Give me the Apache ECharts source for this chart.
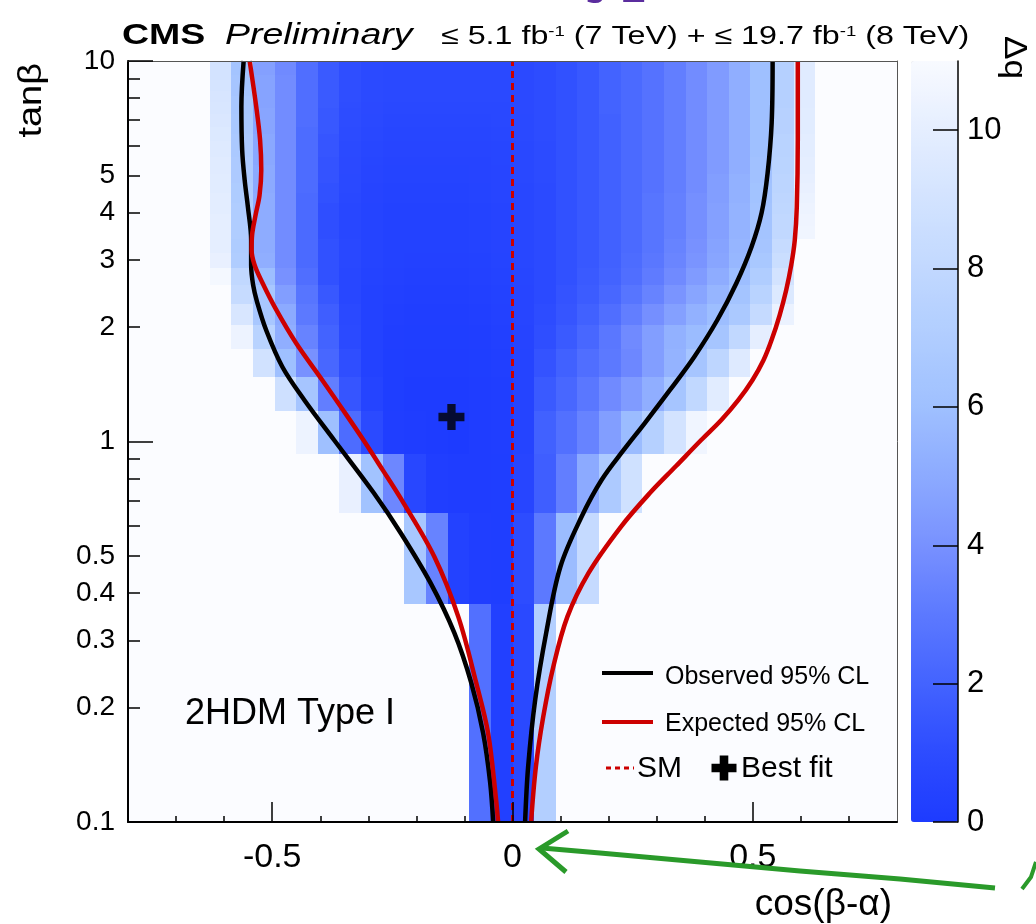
<!DOCTYPE html>
<html><head><meta charset="utf-8">
<script src="https://cdn.jsdelivr.net/npm/echarts@6/dist/echarts.min.js"></script>
<style>html,body{margin:0;padding:0;background:#fff}#c{width:1036px;height:924px}</style>
</head><body><div id="c"></div>
<script>
const _ = null;
// bin edges of the scan
const cosEdges = [-0.63,-0.585,-0.54,-0.495,-0.45,-0.405,-0.36,-0.315,-0.27,-0.225,-0.18,-0.135,-0.09,-0.045,0,0.045,0.09,0.135,0.18,0.225,0.27,0.315,0.36,0.405,0.45,0.495,0.54,0.585,0.63];
const tanEdges = [0.1,0.375,0.65,0.925,1.2,1.475,1.75,2.025,2.3,2.575,2.85,3.125,3.4,3.675,3.95,4.225,4.5,4.775,5.05,5.325,5.6,5.875,6.15,6.425,6.7,6.975,7.25,7.525,7.8,8.075,8.35,8.625,8.9,9.175,9.45,9.725,10];
// -2 Delta lnL per cell, row 0 = lowest tan(beta) bin, column 0 = most negative cos(beta-alpha)
const deltaRows = [
 [_,_,_,_,_,_,_,_,_,_,_,_,2.6,0.3,0.8,7.2,_,_,_,_,_,_,_,_,_,_,_,_],
 [_,_,_,_,_,_,_,_,_,6.5,3.4,0.4,0.2,0.15,1.0,3.0,5.8,8.2,_,_,_,_,_,_,_,_,_,_],
 [_,_,_,_,_,_,10.2,6.2,3.6,0.7,0.2,0.1,0.1,0.15,0.6,1.8,3.2,5.0,6.8,8.8,_,_,_,_,_,_,_,_],
 [_,_,_,_,10.4,6.0,2.4,0.9,0.2,0.1,0.05,0.02,0.1,0.2,0.5,1.9,2.6,3.4,4.5,5.8,7.3,9.0,10.6,_,_,_,_,_],
 [_,_,_,8.7,6.4,3.2,1.4,0.5,0.15,0.05,0.05,0.05,0.1,0.2,0.5,1.6,2.2,2.9,3.7,4.4,5.2,6.4,8.0,9.8,_,_,_,_],
 [_,_,8.9,6.0,4.0,2.2,1.1,0.4,0.15,0.1,0.1,0.1,0.15,0.25,0.5,1.3,1.9,2.5,3.0,3.6,4.5,5.4,6.4,7.8,9.6,_,_,_],
 [_,10.4,7.5,5.2,3.4,2.0,0.9,0.4,0.2,0.15,0.15,0.15,0.2,0.3,0.55,1.1,1.6,2.2,2.9,3.7,4.5,5.3,5.8,6.4,8.0,10.0,_,_],
 [_,9.3,6.5,5.0,3.0,1.8,0.8,0.4,0.25,0.2,0.2,0.2,0.25,0.35,0.6,1.0,1.4,1.9,2.5,3.2,3.9,4.6,5.3,5.9,6.7,8.2,10.3,_],
 [_,8.3,6.5,4.5,2.8,1.5,0.7,0.4,0.3,0.25,0.25,0.25,0.3,0.4,0.6,0.9,1.3,1.7,2.2,2.8,3.4,4.1,4.8,5.5,6.3,7.5,9.5,_],
 [10.8,8.0,5.9,4.0,2.5,1.2,0.7,0.45,0.35,0.3,0.3,0.3,0.35,0.45,0.65,0.9,1.2,1.6,2.0,2.5,3.1,3.7,4.4,5.1,5.9,7.0,9.0,_],
 [10.2,7.0,5.2,3.8,2.3,1.2,0.75,0.5,0.4,0.35,0.35,0.35,0.4,0.5,0.7,0.9,1.2,1.5,1.9,2.4,2.9,3.5,4.1,4.8,5.6,6.6,8.5,_],
 [10.0,6.9,5.1,3.8,2.3,1.2,0.75,0.5,0.4,0.4,0.4,0.4,0.45,0.55,0.7,0.9,1.2,1.5,1.9,2.3,2.8,3.4,4.0,4.7,5.5,6.4,8.3,_],
 [10.0,7.0,5.1,3.8,2.3,1.1,0.7,0.5,0.4,0.4,0.4,0.4,0.45,0.55,0.7,0.9,1.2,1.5,1.9,2.3,2.8,3.3,3.9,4.6,5.4,6.3,8.0,10.6],
 [10.0,7.0,5.1,3.8,2.3,1.1,0.7,0.5,0.4,0.4,0.4,0.4,0.45,0.55,0.7,0.9,1.2,1.5,1.9,2.3,2.8,3.3,3.9,4.6,5.4,6.3,8.0,10.5],
 [9.9,7.0,5.1,3.8,2.3,1.1,0.7,0.5,0.4,0.4,0.4,0.4,0.45,0.55,0.7,0.9,1.2,1.5,1.9,2.3,2.8,3.3,3.9,4.6,5.4,6.3,7.9,10.4],
 [9.9,6.9,5.1,3.8,2.3,1.2,0.75,0.55,0.45,0.45,0.45,0.45,0.5,0.6,0.7,0.9,1.2,1.5,1.9,2.3,2.8,3.3,3.9,4.5,5.3,6.2,7.8,10.3],
 [9.8,6.9,5.0,3.8,2.4,1.2,0.8,0.55,0.45,0.45,0.45,0.45,0.5,0.6,0.7,0.9,1.2,1.5,1.9,2.3,2.7,3.2,3.8,4.5,5.3,6.2,7.7,10.2],
 [9.8,6.8,5.0,3.8,2.4,1.3,0.8,0.6,0.5,0.5,0.5,0.5,0.55,0.6,0.75,0.95,1.2,1.5,1.9,2.3,2.7,3.2,3.8,4.5,5.3,6.1,7.7,10.1],
 [9.7,6.8,5.0,3.8,2.4,1.3,0.85,0.6,0.5,0.5,0.5,0.5,0.55,0.6,0.75,0.95,1.2,1.5,1.9,2.3,2.7,3.2,3.8,4.4,5.2,6.1,7.6,10.0],
 [9.7,6.8,4.9,3.8,2.4,1.3,0.85,0.65,0.55,0.55,0.55,0.55,0.55,0.65,0.75,0.95,1.2,1.5,1.9,2.3,2.7,3.2,3.8,4.4,5.2,6.1,7.6,10.0],
 [9.6,6.7,4.9,3.8,2.4,1.4,0.9,0.7,0.6,0.6,0.6,0.6,0.6,0.65,0.75,0.95,1.2,1.5,1.9,2.3,2.7,3.2,3.8,4.4,5.2,6.0,7.5,9.9],
 [9.6,6.7,4.9,3.8,2.4,1.4,0.9,0.7,0.6,0.6,0.6,0.6,0.6,0.65,0.75,0.95,1.2,1.5,1.9,2.3,2.7,3.2,3.8,4.4,5.2,6.0,7.5,9.9],
 [9.5,6.7,4.9,3.8,2.4,1.4,0.95,0.75,0.65,0.65,0.65,0.65,0.65,0.7,0.8,1.0,1.2,1.5,1.9,2.3,2.7,3.2,3.8,4.4,5.2,6.0,7.5,9.9],
 [9.5,6.6,4.8,3.8,2.4,1.5,0.95,0.75,0.65,0.65,0.65,0.65,0.65,0.7,0.8,1.0,1.2,1.5,1.9,2.3,2.7,3.2,3.8,4.4,5.2,6.0,7.4,9.8],
 [9.4,6.6,4.8,3.8,2.5,1.5,1.0,0.8,0.7,0.7,0.7,0.7,0.7,0.75,0.8,1.0,1.2,1.5,1.9,2.3,2.7,3.2,3.8,4.4,5.2,6.0,7.4,9.8],
 [9.4,6.6,4.8,3.8,2.5,1.5,1.0,0.8,0.7,0.7,0.7,0.7,0.7,0.75,0.8,1.0,1.2,1.5,1.9,2.3,2.7,3.2,3.8,4.4,5.2,6.0,7.4,9.8],
 [9.3,6.5,4.8,3.8,2.5,1.5,1.0,0.85,0.75,0.75,0.75,0.75,0.75,0.75,0.85,1.0,1.2,1.5,2.0,2.3,2.7,3.2,3.8,4.4,5.2,6.0,7.4,9.8],
 [9.3,6.5,4.7,3.8,2.5,1.6,1.05,0.85,0.75,0.75,0.75,0.75,0.75,0.75,0.85,1.0,1.2,1.5,2.0,2.3,2.7,3.2,3.8,4.4,5.2,6.0,7.3,9.7],
 [9.2,6.5,4.7,3.8,2.5,1.6,1.1,0.9,0.8,0.8,0.8,0.8,0.8,0.8,0.85,1.0,1.2,1.5,2.0,2.3,2.7,3.2,3.8,4.4,5.2,6.0,7.3,9.7],
 [9.2,6.4,4.7,3.8,2.5,1.6,1.1,0.9,0.8,0.8,0.8,0.8,0.8,0.8,0.85,1.0,1.2,1.5,2.0,2.3,2.7,3.2,3.8,4.4,5.2,6.0,7.3,9.7],
 [9.1,6.4,4.7,3.8,2.5,1.6,1.1,0.9,0.8,0.8,0.8,0.8,0.8,0.8,0.85,1.0,1.2,1.5,2.0,2.3,2.7,3.2,3.8,4.4,5.2,6.0,7.3,9.7],
 [9.1,6.4,4.7,3.8,2.5,1.6,1.1,0.9,0.8,0.8,0.8,0.8,0.8,0.8,0.85,1.0,1.2,1.5,2.0,2.3,2.7,3.2,3.8,4.4,5.2,6.0,7.3,9.7],
 [9.0,6.4,4.7,3.8,2.5,1.6,1.1,0.9,0.8,0.8,0.8,0.8,0.8,0.8,0.85,1.0,1.2,1.5,2.0,2.3,2.7,3.2,3.8,4.4,5.2,6.0,7.3,9.7],
 [9.0,6.3,4.6,3.7,2.5,1.6,1.1,0.9,0.8,0.8,0.8,0.8,0.8,0.8,0.85,1.0,1.2,1.5,2.0,2.3,2.7,3.2,3.8,4.4,5.2,6.0,7.3,9.7],
 [9.0,6.3,4.6,3.7,2.5,1.6,1.1,0.9,0.8,0.8,0.8,0.8,0.8,0.8,0.85,1.0,1.2,1.5,2.0,2.3,2.7,3.2,3.8,4.4,5.2,6.0,7.3,9.7],
 [9.0,6.3,4.6,3.7,2.5,1.6,1.1,0.9,0.8,0.8,0.8,0.8,0.8,0.8,0.85,1.0,1.2,1.5,2.0,2.3,2.7,3.2,3.8,4.4,5.2,6.0,7.3,9.7]
];
// 95% CL contours, [cos(beta-alpha), tan(beta)]
const obsLeft = [[-0.5594,10],[-0.5641,7.57],[-0.5625,5.84],[-0.5573,4.87],[-0.5505,4.13],[-0.5438,3.38],[-0.5438,2.91],[-0.5397,2.58],[-0.5314,2.326],[-0.5124,1.96],[-0.4787,1.57],[-0.4332,1.286],[-0.3712,1.009],[-0.2885,0.732],[-0.2326,0.575],[-0.1706,0.425],[-0.1210,0.314],[-0.0858,0.232],[-0.0610,0.171],[-0.0465,0.127],[-0.0403,0.1]];
const obsRight = [[0.5412,10],[0.5392,6.87],[0.5308,5.08],[0.5183,3.99],[0.4974,3.25],[0.4660,2.61],[0.4262,2.086],[0.3780,1.668],[0.3277,1.366],[0.2753,1.118],[0.2314,0.950],[0.1853,0.792],[0.1434,0.633],[0.0995,0.468],[0.0701,0.314],[0.0471,0.209],[0.0325,0.1395],[0.0262,0.1]];
const expLeft = [[-0.5469,10],[-0.5331,7.57],[-0.5252,6.20],[-0.5227,5.17],[-0.5263,4.44],[-0.5345,3.94],[-0.5418,3.49],[-0.5428,3.186],[-0.5366,2.91],[-0.5201,2.61],[-0.4917,2.22],[-0.4504,1.815],[-0.3960,1.451],[-0.3526,1.21],[-0.3102,1.009],[-0.2699,0.841],[-0.2306,0.702],[-0.1623,0.497],[-0.1127,0.346],[-0.0755,0.232],[-0.0507,0.171],[-0.0341,0.1143],[-0.0300,0.1]];
const expRight = [[0.5936,10],[0.5936,6.20],[0.5915,4.13],[0.5873,3.38],[0.5800,2.91],[0.5695,2.50],[0.5559,2.15],[0.5392,1.85],[0.5224,1.637],[0.4994,1.451],[0.4701,1.286],[0.4345,1.139],[0.3926,1.009],[0.3403,0.862],[0.2858,0.732],[0.2251,0.596],[0.1581,0.451],[0.1141,0.346],[0.0848,0.2556],[0.0639,0.1888],[0.0486,0.1395],[0.0387,0.1]];
const smLine = [[0,0.1],[0,10]];
const bestFit = [[-0.127,1.16]];
// tick values
const xLabelTicks = [-0.5,0,0.5];
const xMinorTicks = [-0.7,-0.6,-0.4,-0.3,-0.2,-0.1,0.1,0.2,0.3,0.4,0.6,0.7];
const yLabelTicks = [0.1,0.2,0.3,0.4,0.5,1,2,3,4,5,10];
const yMajorTicks = [0.1,1,10];
const yMinorTicks = [0.2,0.3,0.4,0.5,0.6,0.7,0.8,0.9,2,3,4,5,6,7,8,9];
const zTicks = [0,2,4,6,8,10];

const cells = [];
deltaRows.forEach((row, j) => row.forEach((z, i) => {
  if (z !== null) cells.push([cosEdges[i], cosEdges[i+1], tanEdges[j], tanEdges[j+1], z]);
}));

const FONT = "'Liberation Sans', Arial, Helvetica, sans-serif";
const PLUS = 'path://M34,0H66V34H100V66H66V100H34V66H0V34H34Z';
const chart = echarts.init(document.getElementById('c'), null, {renderer:'canvas'});
const blk = '#000';
function frameAxis(extra){ return Object.assign({splitLine:{show:false}, axisTick:{show:false}, axisLabel:{show:false}}, extra); }
function plusPts(cx, cy, h, t){
  return [[cx-t,cy-h],[cx+t,cy-h],[cx+t,cy-t],[cx+h,cy-t],[cx+h,cy+t],[cx+t,cy+t],[cx+t,cy+h],[cx-t,cy+h],[cx-t,cy+t],[cx-h,cy+t],[cx-h,cy-t],[cx-t,cy-t]];
}
function contour(name, data, color){
  return {type:'line', name:name, xAxisIndex:0, yAxisIndex:0, data:data, showSymbol:false, smooth:0.35, z:4, lineStyle:{color:color, width:4.5}};
}

chart.setOption({
  animation:false,
  backgroundColor:'#ffffff',
  grid:[
    {left:128, top:61, width:769, height:761, show:true, backgroundColor:'#fbfcff', borderWidth:0},
    {left:911, top:61, width:47, height:761, show:false}
  ],
  visualMap:{type:'continuous', min:0, max:11, dimension:4, seriesIndex:0, calculable:false, show:true,
    left:911, top:61, itemWidth:47, itemHeight:761, padding:0, hoverLink:false,
    inRange:{color:['#1d3bff','#2d4cff','#4363ff','#5c79ff','#7891ff','#8caaff','#9fc0ff','#b0cdff','#c1d8ff','#d3e3ff','#e5eeff','#f8faff']}},
  xAxis:[
    {gridIndex:0, type:'value', min:-0.8, max:0.8, position:'bottom', z:10,
     axisLine:{onZero:false, lineStyle:{color:blk, width:2}},
     axisTick:{inside:true, length:20, customValues:xLabelTicks, lineStyle:{color:blk, width:1.5}},
     axisLabel:{customValues:xLabelTicks, fontSize:34, fontFamily:FONT, color:blk, margin:19, formatter:v=>String(+(+v).toFixed(2))},
     splitLine:{show:false}},
    {gridIndex:0, type:'value', min:-0.8, max:0.8, position:'bottom', z:10,
     axisLine:{show:false, onZero:false},
     axisTick:{inside:true, length:6, customValues:xMinorTicks, lineStyle:{color:blk, width:1.5}},
     axisLabel:{show:false}, splitLine:{show:false}},
    frameAxis({gridIndex:0, type:'value', min:-0.8, max:0.8, position:'top', z:10, axisLine:{onZero:false, lineStyle:{color:'#555', width:1}}}),
    {gridIndex:1, type:'value', min:0, max:1, show:false}
  ],
  yAxis:[
    {gridIndex:0, type:'log', logBase:10, min:0.1, max:10, position:'left', z:10,
     axisLine:{onZero:false, lineStyle:{color:blk, width:2}},
     axisTick:{inside:true, length:25, customValues:yMajorTicks, lineStyle:{color:blk, width:1.5}},
     axisLabel:{customValues:yLabelTicks, fontSize:28, fontFamily:FONT, color:blk, margin:13, formatter:v=>String(+(+v).toPrecision(3))},
     splitLine:{show:false}},
    {gridIndex:0, type:'log', logBase:10, min:0.1, max:10, position:'left', z:10,
     axisLine:{show:false, onZero:false},
     axisTick:{inside:true, length:12, customValues:yMinorTicks, lineStyle:{color:blk, width:1.5}},
     axisLabel:{show:false}, splitLine:{show:false}},
    frameAxis({gridIndex:0, type:'value', min:0, max:1, position:'right', z:10, axisLine:{onZero:false, lineStyle:{color:'#555', width:1}}}),
    {gridIndex:1, type:'value', min:0, max:11, position:'right', z:10,
     axisLine:{onZero:false, lineStyle:{color:blk, width:1.5}},
     axisTick:{inside:true, length:25, customValues:zTicks, lineStyle:{color:blk, width:1.5}},
     axisLabel:{customValues:zTicks, fontSize:31, fontFamily:FONT, color:blk, margin:9},
     splitLine:{show:false}}
  ],
  series:[
    {type:'custom', name:'scan', xAxisIndex:0, yAxisIndex:0, data:cells, encode:{x:[0,1], y:[2,3]}, z:2,
     renderItem:function(params, api){
       const a = api.coord([api.value(0), api.value(3)]);
       const b = api.coord([api.value(1), api.value(2)]);
       const x = Math.round(a[0]), y = Math.round(a[1]);
       return {type:'rect', shape:{x:x, y:y, width:Math.round(b[0])-x, height:Math.round(b[1])-y}, style:{fill:api.visual('color')}};
     }},
    {type:'line', name:'SM', xAxisIndex:0, yAxisIndex:0, data:smLine, showSymbol:false, z:3,
     lineStyle:{color:'#cc0000', width:3, type:[7,5]}},
    contour('Observed 95% CL', obsLeft, '#000'),
    contour('Observed 95% CL', obsRight, '#000'),
    contour('Expected 95% CL', expLeft, '#cc0000'),
    contour('Expected 95% CL', expRight, '#cc0000'),
    {type:'scatter', name:'Best fit', xAxisIndex:0, yAxisIndex:0, data:bestFit, symbol:PLUS, symbolSize:26, z:5, itemStyle:{color:'#000'}}
  ],
  graphic:[
    {type:'text', x:544, y:-28, z:1, style:{text:'Type', fontFamily:"'DejaVu Serif', 'Liberation Serif', serif", fontWeight:'bold', fontSize:64, fill:'#5b2d9e', align:'left', verticalAlign:'middle'}},
    {type:'text', x:122, y:36, scaleX:1.25, z:20, style:{text:'CMS', fontFamily:FONT, fontWeight:'bold', fontSize:30, fill:'#000', align:'left', verticalAlign:'middle'}},
    {type:'text', x:225, y:36, scaleX:1.25, z:20, style:{text:'Preliminary', fontFamily:FONT, fontStyle:'italic', fontSize:30, fill:'#000', align:'left', verticalAlign:'middle'}},
    {type:'text', x:441, y:37, scaleX:1.24, z:20, style:{text:'≤ 5.1 fb{s|-1} (7 TeV) + ≤ 19.7 fb{s|-1} (8 TeV)', fontFamily:FONT, fontSize:26, fill:'#000', align:'left', verticalAlign:'middle',
      rich:{s:{fontSize:15, fontFamily:FONT, verticalAlign:'top', fill:'#000'}}}},
    {type:'text', x:32, y:63, rotation:Math.PI/2, scaleX:1.15, z:20, style:{text:'tanβ', fontFamily:FONT, fontSize:33, fill:'#000', align:'right', verticalAlign:'middle'}},
    {type:'text', x:892, y:905, z:20, style:{text:'cos(β-α)', fontFamily:FONT, fontSize:37, fill:'#000', align:'right', verticalAlign:'middle'}},
    {type:'text', x:1014, y:36, rotation:-Math.PI/2, scaleX:1.1, z:20, style:{text:'Δq', fontFamily:FONT, fontSize:32, fill:'#000', align:'left', verticalAlign:'middle'}},
    {type:'text', x:185, y:714, z:20, style:{text:'2HDM Type I', fontFamily:FONT, fontSize:36, fill:'#000', align:'left', verticalAlign:'middle'}},
    // legend
    {type:'line', z:20, shape:{x1:602, y1:673, x2:653, y2:673}, style:{stroke:'#000', lineWidth:4}},
    {type:'text', x:665, y:677, z:20, style:{text:'Observed 95% CL', fontFamily:FONT, fontSize:25, fill:'#000', align:'left', verticalAlign:'middle'}},
    {type:'line', z:20, shape:{x1:602, y1:722, x2:653, y2:722}, style:{stroke:'#cc0000', lineWidth:4}},
    {type:'text', x:665, y:724, z:20, style:{text:'Expected 95% CL', fontFamily:FONT, fontSize:25, fill:'#000', align:'left', verticalAlign:'middle'}},
    {type:'line', z:20, shape:{x1:606, y1:768, x2:634, y2:768}, style:{stroke:'#cc0000', lineWidth:3, lineDash:[5,4]}},
    {type:'text', x:637, y:769, z:20, style:{text:'SM', fontFamily:FONT, fontSize:30, fill:'#000', align:'left', verticalAlign:'middle'}},
    {type:'polygon', z:20, shape:{points:plusPts(724, 768, 12.5, 4.3)}, style:{fill:'#000'}},
    {type:'text', x:741, y:769, z:20, style:{text:'Best fit', fontFamily:FONT, fontSize:30, fill:'#000', align:'left', verticalAlign:'middle'}},
    // hand-drawn green arrow annotation
    {type:'polyline', z:30, shape:{points:[[995,888],[900,879],[800,871],[700,862],[600,853],[542,848]]}, style:{stroke:'#2a9a2a', lineWidth:5, fill:null}},
    {type:'polyline', z:30, shape:{points:[[568,831],[539,849],[566,872]]}, style:{stroke:'#2a9a2a', lineWidth:5, fill:null}},
    {type:'polyline', z:30, shape:{points:[[1036,862],[1031,877],[1022,889]]}, style:{stroke:'#2a9a2a', lineWidth:4, fill:null}}
  ]
});
</script></body></html>
